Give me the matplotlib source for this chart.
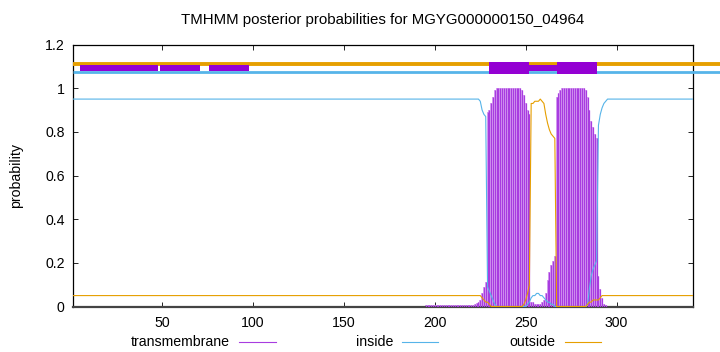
import numpy as np
import matplotlib
matplotlib.use("Agg")
import matplotlib.pyplot as plt
from matplotlib.lines import Line2D

plt.rcParams['font.family'] = ['Liberation Sans', 'DejaVu Sans']

seq_len = 342
title = "TMHMM posterior probabilities for MGYG000000150_04964"

# transmembrane posterior (residues 1..342)
tm_prob = ([0.0] * 194 + [0.005] * 26 +
           [0.008, 0.01, 0.015, 0.02,
            0.03, 0.06, 0.09, 0.11,
            0.89, 0.90, 0.93, 0.96, 0.99] + [1.0] * 14 +
           [0.99, 0.97, 0.93, 0.90, 0.88,
            0.02, 0.02, 0.01, 0.01, 0.01, 0.01, 0.02, 0.03, 0.06, 0.12, 0.16, 0.19, 0.21, 0.23,
            0.96, 0.98, 0.99] + [1.0] * 13 +
           [0.99, 0.96, 0.90, 0.85, 0.82, 0.79, 0.77,
            0.14, 0.08, 0.04, 0.01, 0.005] + [0.0] * 48)

# inside posterior
inside_prob = ([0.95] * 224 +
               [0.94, 0.90, 0.88, 0.87, 0.09, 0.07, 0.05, 0.03, 0.01] + [0.0] * 17 +
               [0.01, 0.02, 0.04, 0.05, 0.05, 0.06, 0.06, 0.05, 0.05, 0.04, 0.03, 0.02, 0.02, 0.01, 0.01] +
               [0.0] * 18 +
               [0.01, 0.08, 0.14, 0.17, 0.19, 0.21, 0.83, 0.88, 0.91, 0.93, 0.94] + [0.95] * 48)

# outside posterior
outside_prob = ([0.05] * 224 +
                [0.05, 0.04, 0.03, 0.02, 0.02, 0.01] + [0.0] * 18 +
                [0.01, 0.03, 0.06, 0.10,
                 0.93, 0.93, 0.94, 0.94, 0.94, 0.95, 0.94, 0.93, 0.88, 0.84, 0.81, 0.79, 0.78, 0.77] +
                [0.0] * 17 +
                [0.01, 0.02, 0.02, 0.03, 0.03, 0.03, 0.03, 0.04, 0.05] + [0.05] * 50)

# top annotation segments (start residue, end residue)
thin_segments = [(5, 48), (49, 71), (76, 98), (252, 267)]
thick_segments = [(230, 252), (267, 289)]

residues = np.arange(1, seq_len + 1)
tm = np.array(tm_prob[:seq_len])
ins = np.array(inside_prob[:seq_len])
outs = np.array(outside_prob[:seq_len])

purple = '#9400d3'
light_purple = '#d9a6f2'
dark_bar = '#a83ce0'
blue = '#56b4e9'
orange = '#e69f00'

fig = plt.figure(figsize=(7.2, 3.52), dpi=100)
ax = fig.add_axes([73 / 720, 1 - 306.5 / 352, (693 - 73) / 720, (306.5 - 44.5) / 352])

# TM impulses
ax.bar(residues, tm, width=1.0, color=light_purple, linewidth=0, zorder=2)
ax.vlines(residues, 0, tm, color=dark_bar, linewidth=0.9, zorder=3)

ax.plot(residues, ins, color=blue, linewidth=0.8, zorder=4)
ax.plot(residues, outs, color=orange, linewidth=0.8, zorder=4)

# top annotation lines
x_ext = 357
ax.plot([1, x_ext], [1.112, 1.112], color=orange, linewidth=2.8, clip_on=False, zorder=5,
        solid_capstyle='butt')
ax.plot([1, x_ext], [1.073, 1.073], color=blue, linewidth=2.0, clip_on=False, zorder=5,
        solid_capstyle='butt')
ax.broken_barh([(s, e - s) for s, e in thin_segments], (1.079, 0.026),
               facecolors=purple, edgecolor='none', zorder=6)
ax.broken_barh([(s, e - s) for s, e in thick_segments], (1.067, 0.053),
               facecolors=purple, edgecolor='none', zorder=6)

ax.set_xlim(1, seq_len)
ax.set_ylim(0, 1.2)
ax.set_xticks([50, 100, 150, 200, 250, 300])
ax.set_yticks([0, 0.2, 0.4, 0.6, 0.8, 1.0, 1.2])
ax.set_yticklabels(['0', '0.2', '0.4', '0.6', '0.8', '1', '1.2'])
ax.tick_params(direction='in', length=3.5, width=0.6, top=True, right=True,
               labelsize=10.2, pad=7, colors='black')
ax.tick_params(axis='y', pad=6)
for sp in ax.spines.values():
    sp.set_linewidth(0.9)
ax.spines['bottom'].set_linewidth(1.6)
ax.spines['bottom'].set_color('#444444')

ax.set_ylabel('probability', fontsize=10.2, labelpad=16)
fig.text(383 / 720, 1 - 20 / 352, title, ha='center', va='center', fontsize=10.8)

# legend (gnuplot style: text then sample line)
legend_items = [("transmembrane", dark_bar, 230, 239, 276),
                ("inside", blue, 393, 402, 438),
                ("outside", orange, 555, 565, 601)]
ly = 1 - 342 / 352
for label, col, tx, x0, x1 in legend_items:
    fig.text(tx / 720, ly, label, ha='right', va='center', fontsize=10.2)
    fig.add_artist(Line2D([x0 / 720, x1 / 720], [ly, ly], color=col, linewidth=0.8,
                          transform=fig.transFigure))

fig.savefig('out.png', dpi=100)
